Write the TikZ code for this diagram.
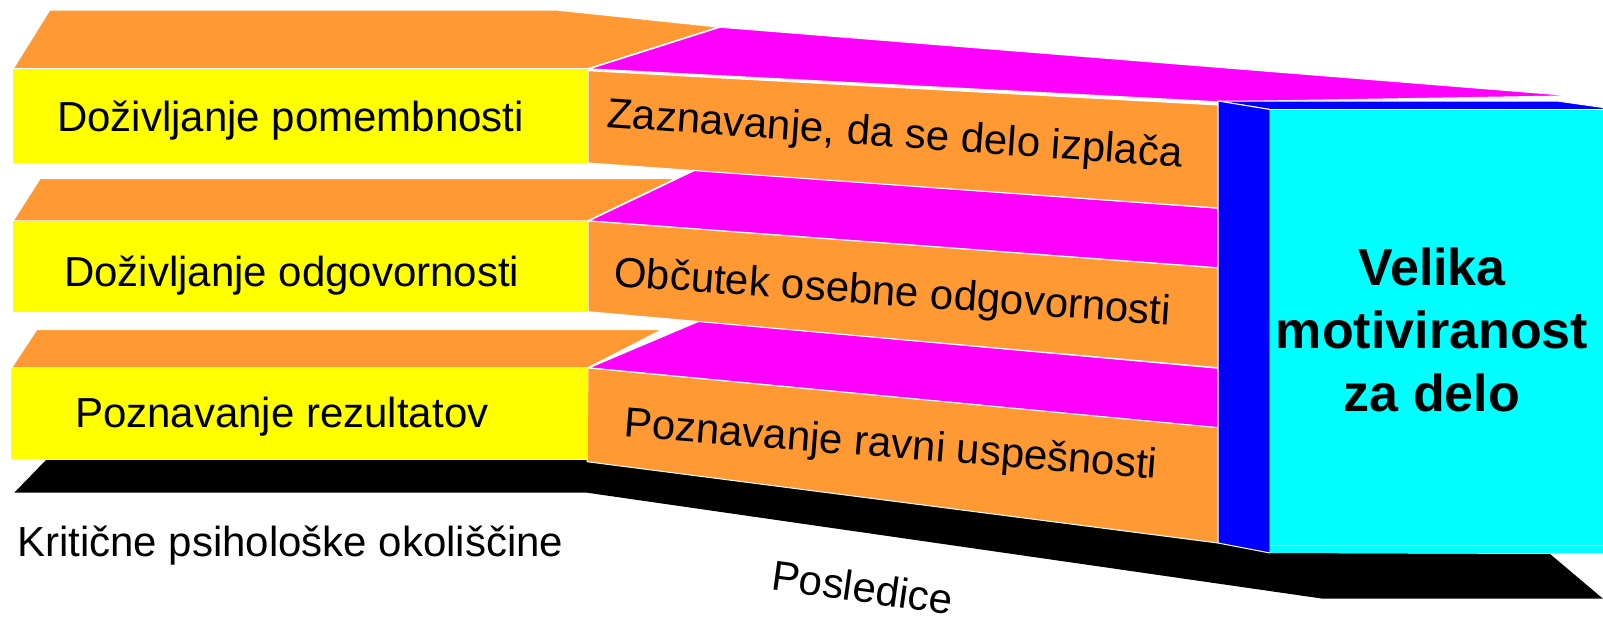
\documentclass[tikz,border=0pt]{standalone}
\usepackage{fontspec}
\setmainfont{Liberation Sans}
\definecolor{orng}{HTML}{FF9933}
\definecolor{yel}{HTML}{FFFF00}
\definecolor{mag}{HTML}{FF00FF}
\definecolor{blu}{HTML}{0000FF}
\definecolor{cyn}{HTML}{00FFFF}
\begin{document}
\begin{tikzpicture}[x=1pt,y=-1pt,
  topface/.style={draw=white, line width=1.5pt, line join=round},
  frontface/.style={draw=white, line width=1pt, line join=round},
  txt/.style={font=\fontsize{42}{50}\selectfont, inner sep=0pt, text=black},
  big/.style={font=\fontsize{52}{60}\selectfont\bfseries, inner sep=0pt, text=black}]
\useasboundingbox (0,0) rectangle (1603,618);

% black base
\fill[black] (46,460) -- (587,460) -- (1218,543) -- (1270,553) -- (1550,554)
  -- (1603,598.7) -- (1323,598.7) -- (587,492.7) -- (14.3,492.7) -- cycle;

% row 3
\filldraw[fill=orng, topface] (11.2,368) -- (36.7,329.3) -- (663,329.3) -- (588,368) -- cycle;
\filldraw[fill=mag, topface] (588,368) -- (699,321) -- (1218,368) -- (1218,428) -- cycle;
\filldraw[fill=orng, frontface] (588,368) -- (1218,427.7) -- (1218,543) -- (587,461.7) -- cycle;
\fill[yel] (11.2,368) rectangle (588,459.3);

% row 2
\filldraw[fill=orng, topface] (12.8,221) -- (40,178.3) -- (677,178.3) -- (588,221) -- cycle;
\filldraw[fill=mag, topface] (588,221) -- (695,170) -- (1218,208) -- (1218,268) -- cycle;
\filldraw[fill=orng, frontface] (588,221) -- (1218,268) -- (1218,367.7) -- (588,311.7) -- cycle;
\fill[yel] (12.8,221) rectangle (588,311.7);

% row 1
\filldraw[fill=orng, topface] (12.8,69) -- (49.5,10) -- (558,10) -- (720,27) -- (588,69) -- cycle;
\filldraw[fill=mag, topface] (588,69) -- (720,27) -- (1578,96) -- (1218,102) -- cycle;
\filldraw[fill=orng, frontface] (588,70.7) -- (1218,105) -- (1218,208) -- (588,163) -- cycle;
\fill[yel] (12.8,69) rectangle (588,163);

% blue box
\filldraw[fill=blu, frontface] (1218,101) -- (1557,101) -- (1603,107.5) -- (1603,109.5) -- (1270,109.5) -- cycle;
\filldraw[fill=blu, frontface] (1218,101) -- (1270,109.5) -- (1270,553) -- (1218,543) -- cycle;
\fill[cyn] (1270,109.5) rectangle (1603,553);
\draw[white, line width=1pt] (1270,545) -- (1603,545);

% texts
\node[txt, anchor=base west] (l1) at (57,131.7) {Doživljanje pomembnosti};
\node[txt, anchor=base west] (l2) at (64,286) {Doživljanje odgovornosti};
\node[txt, anchor=base west] (l3) at (75,427.7) {Poznavanje rezultatov};
\node[txt, anchor=base west] (crit) at (17,556.7) {Kritične psihološke okoliščine};
\node[txt, anchor=base west, rotate=-4] (r1) at (606,127) {Zaznavanje, da se delo izplača};
\node[txt, anchor=base west, rotate=-4] (r2) at (613,286) {Občutek osebne odgovornosti};
\node[txt, anchor=base west, rotate=-4.5] (r3) at (623,436.7) {Poznavanje ravni uspešnosti};
\node[txt, anchor=base west, rotate=-8] (posl) at (770,589.5) {Posledice};
\node[big, anchor=base] (v1) at (1432,285) {Velika};
\node[big, anchor=base] (v2) at (1432,348) {motiviranost};
\node[big, anchor=base] (v3) at (1432,411.7) {za delo};
\end{tikzpicture}
\end{document}
